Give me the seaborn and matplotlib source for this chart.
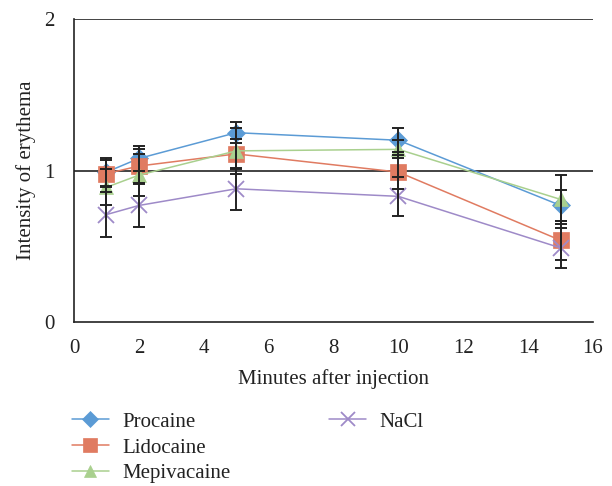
import matplotlib
matplotlib.use("Agg")
import matplotlib.pyplot as plt
import seaborn as sns
import pandas as pd
from matplotlib.lines import Line2D
from matplotlib.ticker import MultipleLocator

minutes = [1, 2, 5, 10, 15]
procaine = [0.99, 1.08, 1.25, 1.20, 0.77]
lidocaine = [0.98, 1.03, 1.11, 0.99, 0.54]
mepivacaine = [0.89, 0.97, 1.13, 1.14, 0.81]
nacl = [0.71, 0.77, 0.88, 0.83, 0.49]

procaine_err = [0.09, 0.08, 0.07, 0.08, 0.10]
lidocaine_err = [0.09, 0.11, 0.10, 0.11, 0.13]
mepivacaine_err = [0.12, 0.14, 0.15, 0.06, 0.16]
nacl_err = [0.15, 0.14, 0.14, 0.13, 0.13]

names = ["Procaine", "Lidocaine", "Mepivacaine", "NaCl"]
values = [procaine, lidocaine, mepivacaine, nacl]
errors = [procaine_err, lidocaine_err, mepivacaine_err, nacl_err]
colors = ["#5B9BD5", "#E07B61", "#A9D08E", "#9E8AC8"]
markers = ["D", "s", "^", "x"]
msizes = [9, 11, 10, 11]

sns.set_style("white")
plt.rcParams["font.family"] = ["Liberation Serif", "DejaVu Serif"]

df = pd.concat([pd.DataFrame({"Minutes": minutes, "Intensity": v, "err": e, "Drug": n})
                for n, v, e in zip(names, values, errors)], ignore_index=True)

fig = plt.figure(figsize=(6.12, 4.86), dpi=100)
ax = fig.add_axes([0.121, 0.337, 0.848, 0.624])

handles = []
for n, c, m, ms in zip(names, colors, markers, msizes):
    d = df[df["Drug"] == n]
    sns.lineplot(data=d, x="Minutes", y="Intensity", ax=ax, color=c, linewidth=1.1,
                 marker=m, markersize=ms, markeredgecolor=c, markeredgewidth=1.3 if m == "x" else 0.5,
                 zorder=3, legend=False)
    handles.append(Line2D([0], [0], color=c, marker=m, markersize=ms * 0.9, linewidth=1.1,
                          markeredgecolor=c, markeredgewidth=1.3 if m == "x" else 0.5))
for n in names:
    d = df[df["Drug"] == n]
    ax.errorbar(d["Minutes"], d["Intensity"], yerr=d["err"], fmt="none",
                ecolor="#222222", elinewidth=1.4, capsize=4, capthick=1.4, zorder=5)

ax.set_xlim(0, 16)
ax.set_ylim(0, 2)
ax.xaxis.set_major_locator(MultipleLocator(2))
ax.yaxis.set_major_locator(MultipleLocator(1))
ax.yaxis.set_minor_locator(MultipleLocator(0.2))
for y in [1, 2]:
    ax.axhline(y, color="#222222", linewidth=1.2, zorder=2)
ax.spines["top"].set_visible(False)
ax.spines["right"].set_visible(False)
for s in ["left", "bottom"]:
    ax.spines[s].set_color("#222222")
    ax.spines[s].set_linewidth(1.2)
ax.tick_params(axis="both", which="both", direction="out", color="#222222", width=1.0,
               labelsize=15, labelcolor="#222222")
ax.tick_params(axis="x", length=6, pad=6)
ax.tick_params(axis="y", which="major", length=8, pad=6)
ax.tick_params(axis="y", which="minor", length=8)
ax.set_xlabel("Minutes after injection", fontsize=15, color="#222222", labelpad=8)
ax.set_ylabel("Intensity of erythema", fontsize=15, color="#222222", labelpad=6)

blank = Line2D([0], [0], color="none")
leg = fig.legend([handles[0], handles[1], handles[2], handles[3], blank, blank],
                 ["Procaine", "Lidocaine", "Mepivacaine", "NaCl", "", ""],
                 ncol=2, loc="upper left", bbox_to_anchor=(0.117, 0.152), frameon=False,
                 fontsize=15, handlelength=1.8, labelspacing=0.3, columnspacing=4.7,
                 handletextpad=0.65, borderaxespad=0, borderpad=0)
for t in leg.get_texts():
    t.set_color("#222222")

fig.savefig("out.png", dpi=100)
